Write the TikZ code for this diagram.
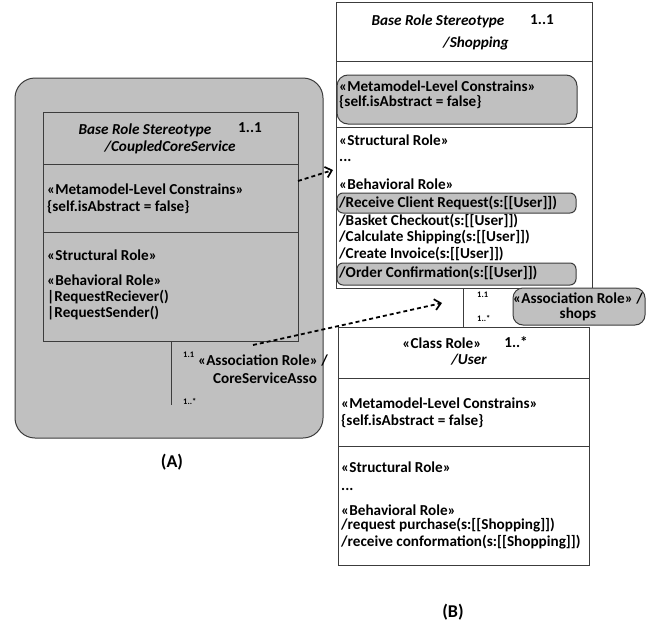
\documentclass[tikz,border=0pt]{standalone}
\usepackage{fontspec}
\setmainfont{Carlito}
\usetikzlibrary{arrows.meta}
\definecolor{panelgray}{RGB}{192,192,192}
\definecolor{edge}{RGB}{60,60,60}
\tikzset{
  txt/.style={inner sep=0pt, font=\fontsize{15.2}{17}\selectfont\bfseries, text=black},
  lt/.style={txt, anchor=west},
  ct/.style={txt, anchor=center},
  it/.style={ct, font=\fontsize{15.2}{17}\selectfont\bfseries\itshape},
  tiny/.style={inner sep=0pt, anchor=west, font=\fontsize{8.5}{10}\selectfont\bfseries},
  panellabel/.style={inner sep=0pt, font=\fontsize{18}{21}\selectfont\bfseries},
  frame/.style={draw=edge, line width=1pt},
  pill/.style={draw=edge, fill=panelgray, line width=1pt, rounded corners=#1},
  link/.style={draw=black, line width=1.8pt, dash pattern=on 4pt off 3pt,
    -{Straight Barb[length=6pt,width=11pt,line width=1.7pt]}}
}
\begin{document}
\begin{tikzpicture}[x=1pt,y=-1pt]
\useasboundingbox (0,0) rectangle (652,621);

% ---------- (A): coupled core service ----------
\draw[frame, fill=panelgray, rounded corners=20] (15,78) rectangle (323,438);
\draw[frame] (43,112) rectangle (298,341);
\draw[frame] (43,164) -- (298,164);
\draw[frame] (43,232) -- (298,232);
\draw[frame] (171,341) -- (171,405);

\node[it] (aHead) at (145,130) {Base Role Stereotype};
\node[ct] (aMult) at (250,128) {1..1};
\node[it] (aName) at (170,147) {/CoupledCoreService};
\node[lt] (aMeta) at (47,189) {«Metamodel-Level Constrains»};
\node[lt] (aSelf) at (47,207) {\{self.isAbstract = false\}};
\node[lt] (aStruct) at (47,255) {«Structural Role»};
\node[lt] (aBehav) at (47,280) {«Behavioral Role»};
\node[lt] (aRecv) at (47,297) {|RequestReciever()};
\node[lt] (aSend) at (47,313) {|RequestSender()};
\node[tiny] (aOne) at (183,355) {1.1};
\node[ct] (aAssoc) at (263,360) {«Association Role» /};
\node[ct] (aAssocName) at (265,378) {CoreServiceAsso};
\node[tiny] (aMany) at (183,401) {1..*};
\node[panellabel] (labelA) at (172,462) {(A)};

% ---------- (B): shopping role ----------
\draw[frame, fill=white] (336,2) rectangle (592,288);
\draw[frame] (336,61) -- (592,61);
\draw[frame] (336,127) -- (592,127);
\draw[pill=11] (337,75) rectangle (577,124);
\draw[pill=6] (337,193) rectangle (576,213);
\draw[pill=6] (337,263) rectangle (576,285);

\node[it] (bHead) at (438,21) {Base Role Stereotype};
\node[ct] (bMult) at (542,20) {1..1};
\node[it] (bName) at (476,43) {/Shopping};
\node[lt] (bMeta) at (339,86) {«Metamodel-Level Constrains»};
\node[lt] (bSelf) at (339,102) {\{self.isAbstract = false\}};
\node[lt] (bStruct) at (339,140) {«Structural Role»};
\node[lt] (bDots) at (339,160) {...};
\node[lt] (bBehav) at (339,184) {«Behavioral Role»};
\node[lt] (bOp1) at (339,203) {/Receive Client Request(s:[[User]])};
\node[lt] (bOp2) at (339,221) {/Basket Checkout(s:[[User]])};
\node[lt] (bOp3) at (339,237) {/Calculate Shipping(s:[[User]])};
\node[lt] (bOp4) at (339,254) {/Create Invoice(s:[[User]])};
\node[lt] (bOp5) at (339,273) {/Order Confirmation(s:[[User]])};

% association between Shopping and User
\draw[frame] (463,288) -- (463,327);
\node[tiny] (bOne) at (477,295) {1.1};
\node[tiny] (bMany) at (477,318) {1..*};
\draw[pill=10] (513,288) rectangle (645,325);
\node[ct] (bAssoc) at (578,298) {«Association Role» /};
\node[ct] (bAssocName) at (578,314) {shops};

% ---------- User class role ----------
\draw[frame, fill=white] (338,327) rectangle (589,565);
\draw[frame] (338,378) -- (589,378);
\draw[frame] (338,446) -- (589,446);
\node[ct] (uHead) at (442,343) {«Class Role»};
\node[ct] (uMult) at (516,342) {1..*};
\node[it] (uName) at (469,360) {/User};
\node[lt] (uMeta) at (341,403) {«Metamodel-Level Constrains»};
\node[lt] (uSelf) at (341,421) {\{self.isAbstract = false\}};
\node[lt] (uStruct) at (341,467) {«Structural Role»};
\node[lt] (uDots) at (341,489) {...};
\node[lt] (uBehav) at (341,510) {«Behavioral Role»};
\node[lt] (uOp1) at (341,525) {/request purchase(s:[[Shopping]])};
\node[lt] (uOp2) at (341,542) {/receive conformation(s:[[Shopping]])};
\node[panellabel] (labelB) at (453,612) {(B)};

% ---------- mapping arrows ----------
\coordinate (mapFromA) at (298,181);
\coordinate (mapToB) at (333,170);
\coordinate (assocFrom) at (253,345);
\coordinate (assocTo) at (442,303);
\draw[link] (mapFromA) -- (mapToB);
\draw[link] (assocFrom) -- (assocTo);
\end{tikzpicture}
\end{document}
